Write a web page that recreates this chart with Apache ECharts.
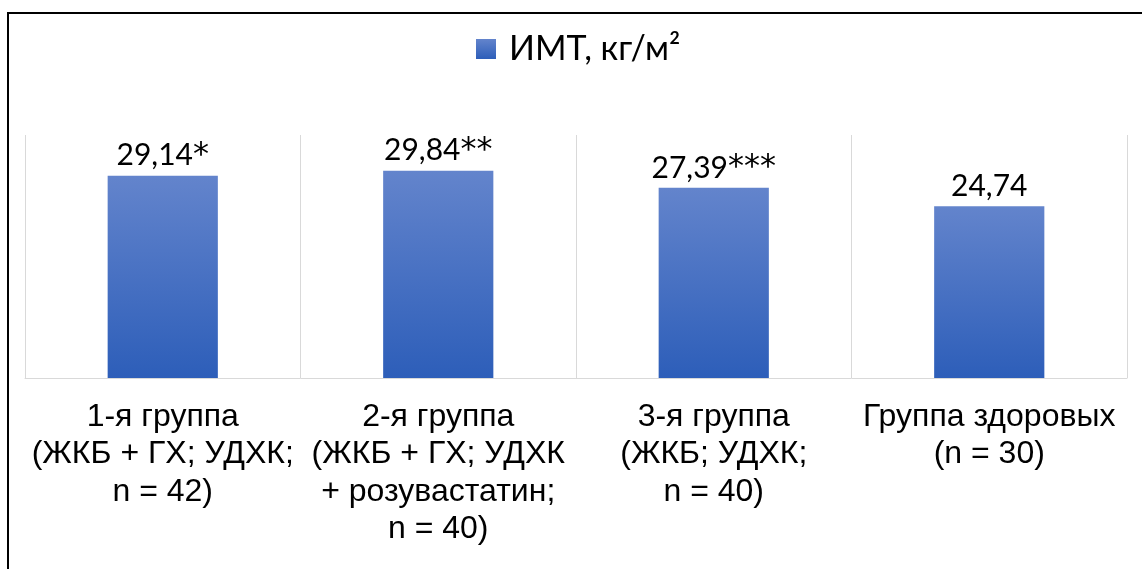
<!DOCTYPE html>
<html>
<head>
<meta charset="utf-8">
<script src="https://cdn.jsdelivr.net/npm/echarts@6/dist/echarts.min.js"></script>
<style>
  html, body { margin: 0; padding: 0; background: #fff; overflow: hidden; }
  #frame { position: absolute; left: 7px; top: 12px; width: 1200px; height: 620px; border: 2px solid #000; box-sizing: border-box; }
  #chart { position: absolute; left: 0; top: 0; width: 1142px; height: 569px; }
</style>
</head>
<body>
<div id="frame"></div>
<div id="chart"></div>
<script>
// Group labels along the category axis
const categories = [
  '1-я группа\n(ЖКБ + ГХ; УДХК;\nn = 42)',
  '2-я группа\n(ЖКБ + ГХ; УДХК\n+ розувастатин;\nn = 40)',
  '3-я группа\n(ЖКБ; УДХК;\nn = 40)',
  'Группа здоровых\n(n = 30)'
];
// Body mass index per group, kg/m²
const bmiValues = [29.14, 29.84, 27.39, 24.74];
// Significance marks printed after each value
const significance = ['*', '**', '***', ''];
const seriesName = 'ИМТ, кг/м²';

const barGradient = new echarts.graphic.LinearGradient(0, 0, 0, 1, [
  { offset: 0, color: '#6384cc' },
  { offset: 1, color: '#2d5eb9' }
]);

const chart = echarts.init(document.getElementById('chart'), null, { renderer: 'canvas' });
chart.setOption({
  backgroundColor: 'transparent',
  animation: false,
  legend: {
    top: 32,
    left: 476,
    padding: 0,
    itemWidth: 20,
    itemHeight: 20,
    itemGap: 12,
    textStyle: { fontFamily: 'Lato', fontSize: 34, color: '#000', padding: [0, 0, 0, 8] },
    data: [{ name: seriesName, icon: 'rect' }]
  },
  grid: { left: 25, right: 15, top: 135, bottom: 191, containLabel: false },
  xAxis: {
    type: 'category',
    data: categories,
    axisLine: { show: true, lineStyle: { color: '#d9d9d9', width: 1 } },
    axisTick: { show: false },
    splitLine: { show: true, lineStyle: { color: '#d9d9d9', width: 1 } },
    axisLabel: {
      interval: 0,
      margin: 20,
      fontFamily: 'Liberation Sans',
      fontSize: 32,
      lineHeight: 37.5,
      color: '#000',
      align: 'center'
    }
  },
  yAxis: {
    type: 'value',
    min: 0,
    max: 35,
    show: false,
    splitLine: { show: false }
  },
  series: [{
    name: seriesName,
    type: 'bar',
    data: bmiValues,
    barCategoryGap: '60%',
    itemStyle: { color: barGradient },
    label: {
      show: true,
      position: 'top',
      distance: 5,
      formatter: p => {
        const num = '{v|' + p.value.toFixed(2).replace('.', ',') + '}';
        const mark = significance[p.dataIndex];
        return mark ? num + '{s|' + mark + '}' : num;
      },
      rich: {
        v: { fontFamily: 'Lato', fontSize: 30, color: '#000', height: 30 },
        s: { fontFamily: 'DejaVu Sans', fontSize: 32, color: '#000', height: 30 }
      }
    }
  }]
});
</script>
</body>
</html>
